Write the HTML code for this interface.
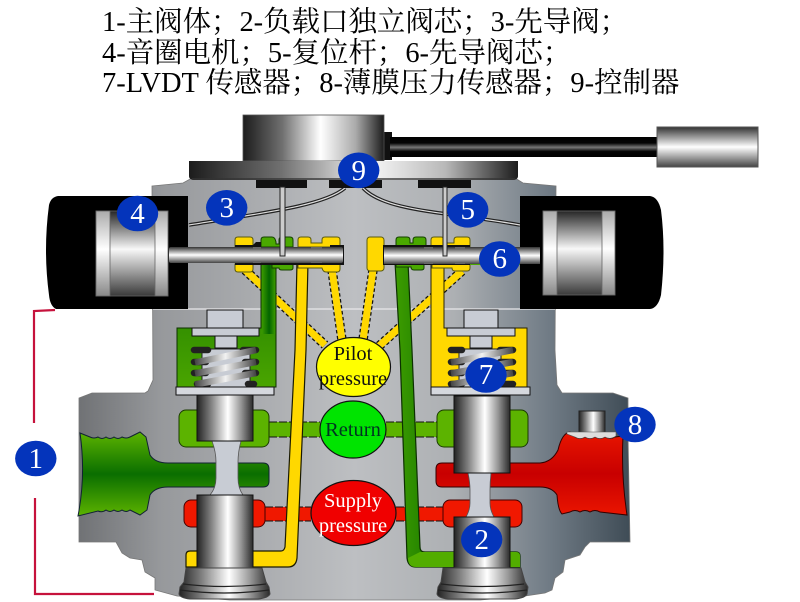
<!DOCTYPE html>
<html><head><meta charset="utf-8"><style>
html,body{margin:0;padding:0;background:#fff}
svg{display:block;filter:blur(.3px)}
.t{font-family:"Liberation Serif","Noto Serif CJK SC",serif;font-size:28.45px;fill:#000}
.n{font-family:"Liberation Serif",serif;font-size:29px;fill:#fff;text-anchor:middle}
.l{font-family:"Liberation Serif",serif;font-size:20.5px;text-anchor:middle}
</style></head><body>
<svg width="800" height="602" viewBox="0 0 800 602" xmlns="http://www.w3.org/2000/svg">
<defs>
<linearGradient id="body" gradientUnits="userSpaceOnUse" x1="79" y1="0" x2="630" y2="0">
<stop offset="0" stop-color="#707275"/><stop offset=".15" stop-color="#97999c"/><stop offset=".5" stop-color="#bdbfc2"/><stop offset=".68" stop-color="#adb0b3"/><stop offset=".85" stop-color="#717c86"/><stop offset="1" stop-color="#3f4c56"/>
</linearGradient>
<linearGradient id="hc"><stop offset="0" stop-color="#222"/><stop offset=".25" stop-color="#808080"/><stop offset=".55" stop-color="#fff"/><stop offset=".78" stop-color="#999"/><stop offset="1" stop-color="#2a2a2a"/></linearGradient>
<linearGradient id="top"><stop offset="0" stop-color="#1c1c1c"/><stop offset=".28" stop-color="#707070"/><stop offset=".55" stop-color="#fff"/><stop offset=".8" stop-color="#aaa"/><stop offset="1" stop-color="#1c1c1c"/></linearGradient>
<linearGradient id="fl"><stop offset="0" stop-color="#1c1c1c"/><stop offset=".28" stop-color="#707070"/><stop offset=".55" stop-color="#f8f8f8"/><stop offset=".78" stop-color="#b8b8b8"/><stop offset="1" stop-color="#1c1c1c"/></linearGradient>
<linearGradient id="arm" x1="0" y1="0" x2="0" y2="1"><stop offset="0" stop-color="#000"/><stop offset=".3" stop-color="#050505"/><stop offset=".52" stop-color="#777"/><stop offset=".72" stop-color="#050505"/><stop offset="1" stop-color="#000"/></linearGradient>
<linearGradient id="vc" x1="0" y1="0" x2="0" y2="1"><stop offset="0" stop-color="#333"/><stop offset=".5" stop-color="#fff"/><stop offset="1" stop-color="#444"/></linearGradient>
<linearGradient id="vc2" x1="0" y1="0" x2="0" y2="1"><stop offset="0" stop-color="#262626"/><stop offset=".45" stop-color="#f8f8f8"/><stop offset="1" stop-color="#3a3a3a"/></linearGradient>
<linearGradient id="col" x1="0" y1="0" x2="0" y2="1"><stop offset="0" stop-color="#aaa"/><stop offset=".45" stop-color="#fff"/><stop offset="1" stop-color="#888"/></linearGradient>
<linearGradient id="gp" x1="0" y1="0" x2="0" y2="1"><stop offset="0" stop-color="#5cb300"/><stop offset=".5" stop-color="#0a6e00"/><stop offset="1" stop-color="#5cb300"/></linearGradient>
<linearGradient id="gpipe"><stop offset="0" stop-color="#3d9c00"/><stop offset=".55" stop-color="#036400"/><stop offset="1" stop-color="#3d9c00"/></linearGradient>
<linearGradient id="gch" x1="0" y1="0" x2="0" y2="1"><stop offset="0" stop-color="#1d7a00"/><stop offset="1" stop-color="#4aa500"/></linearGradient>
<linearGradient id="rp" x1="0" y1="0" x2="0" y2="1"><stop offset="0" stop-color="#e81500"/><stop offset=".5" stop-color="#c80000"/><stop offset="1" stop-color="#ea1500"/></linearGradient>
<linearGradient id="band" gradientUnits="userSpaceOnUse" x1="195" y1="0" x2="256" y2="0"><stop offset="0" stop-color="#444"/><stop offset=".5" stop-color="#f2f2f2"/><stop offset="1" stop-color="#444"/></linearGradient>
<linearGradient id="band2" gradientUnits="userSpaceOnUse" x1="451" y1="0" x2="513" y2="0"><stop offset="0" stop-color="#444"/><stop offset=".5" stop-color="#f2f2f2"/><stop offset="1" stop-color="#444"/></linearGradient>
</defs>
<rect width="800" height="602" fill="#fff"/>
<text class="t" x="102" y="31">1-主阀体；2-负载口独立阀芯；3-先导阀；</text>
<text class="t" x="102" y="62">4-音圈电机；5-复位杆；6-先导阀芯；</text>
<text class="t" x="102" y="92">7-LVDT 传感器；8-薄膜压力传感器；9-控制器</text>

<!-- red bracket -->
<path d="M55,310 L34,311 V423 M35,498 V594 H154" fill="none" stroke="#c6123c" stroke-width="2.2"/>

<!-- body -->
<path fill="url(#body)" stroke="#777" stroke-width=".8" d="M152,186 L183,183 L192,178 H515 L523,183 L556,186 L555,350 L557,385 L562,393 H613 L628,398 V435 L630,542 H590 L585,547 L580,555 L565,560 L563,572 L555,578 L552,590 L545,593 L525,596 L480,600 H230 L177,596 L155,590 V578 L145,572 L142,560 L130,558 L122,553 L116,542 H79 V398 L92,393 H145 L148,391 L153,380 Z"/>
<line x1="153" y1="309" x2="555" y2="309" stroke="#e8e8ea" stroke-width="1.2"/>

<!-- wires -->
<g fill="none">
<path d="M345,188 C325,205 270,212 189,225" stroke="#222" stroke-width="3.6"/>
<path d="M345,188 C325,205 270,212 189,225" stroke="#ddd" stroke-width="1.2"/>
<path d="M363,188 C385,212 450,212 520,225" stroke="#222" stroke-width="3.6"/>
<path d="M363,188 C385,212 450,212 520,225" stroke="#ddd" stroke-width="1.2"/>
</g>

<!-- dashed pilot lines -->
<g fill="none">
<g stroke="#111" stroke-width="9.5" stroke-dasharray="3.5 2.5">
<path d="M245,270 L325,345"/><path d="M332,270 L342,340"/><path d="M373,270 L363,340"/><path d="M462,271 L378,347"/>
</g>
<g stroke="#ffd800" stroke-width="7">
<path d="M245,270 L325,345"/><path d="M332,270 L342,340"/><path d="M373,270 L363,340"/><path d="M462,271 L378,347"/>
</g>
</g>

<!-- return / supply stripes -->
<rect x="269" y="422" width="51" height="15" fill="#5cb300"/>
<rect x="386" y="422" width="51" height="15" fill="#5cb300"/>
<g stroke="#111" stroke-width="1" stroke-dasharray="8 2">
<path d="M269,422 H320 M269,437 H320 M386,422 H437 M386,437 H437"/>
</g>
<rect x="265" y="507" width="46" height="14" fill="#f01800"/>
<rect x="396" y="507" width="47" height="14" fill="#f01800"/>
<g stroke="#111" stroke-width="1" stroke-dasharray="8 2">
<path d="M265,507 H311 M265,521 H311 M396,507 H443 M396,521 H443"/>
</g>

<!-- pockets -->
<rect x="179" y="410" width="90" height="37" rx="7" fill="#5cb300" stroke="#1a3a00"/>
<rect x="437" y="410" width="91" height="37" rx="7" fill="#5cb300" stroke="#1a3a00"/>
<rect x="184" y="500" width="81" height="27" rx="7" fill="#f01800" stroke="#400"/>
<rect x="443" y="500" width="79" height="27" rx="7" fill="#f01800" stroke="#400"/>

<!-- green port -->
<path fill="url(#gp)" stroke="#123" stroke-width="1" d="M80,433 L90,437 Q94,439 98,437 Q102,440 106,437 Q110,440 114,437 Q118,440 122,437 Q126,439 130,437 L140,432 L146,437 L150,455 Q155,463 168,463 H263 Q269,463 269,469 V481 Q269,487 263,487 H168 Q155,487 150,495 L147,510 L140,515 L130,510 Q126,513 122,510 Q118,513 114,510 Q110,513 106,510 Q102,513 98,511 L78,516 Q86,475 80,433 Z"/>
<!-- red port -->
<path fill="url(#rp)" stroke="#300" stroke-width="1" d="M442,463 H540 Q552,462 558,450 Q562,433 570,432 L575,437 Q580,440 585,437 Q590,440 595,437 Q600,440 605,437 Q610,440 615,437 L623,436 Q621,475 627,515 L600,512 Q595,509 590,512 Q585,509 580,512 Q575,509 570,512 L562,514 Q558,510 557,495 Q552,487 540,487 H442 Q436,487 436,481 V469 Q436,463 442,463 Z"/>
<!-- sensor 8 -->
<rect x="579" y="411" width="26" height="22" fill="url(#hc)" stroke="#222"/>
<path d="M567,432 H616 V436 Q610,440 605,437 Q600,440 595,437 Q590,440 585,437 Q580,440 575,437 L567,434 Z" fill="#ddd" stroke="#555" stroke-width=".6"/>

<!-- pipes -->
<path stroke="#0c3000" d="M261,262 H276 V387 H177 V328 H261 Z" style="fill:url(#gch)"/>
<rect x="261.5" y="262" width="14" height="72" fill="url(#gpipe)"/>
<path fill="#ffd800" stroke="#2a2500" d="M431,328 V262 H444 V328 H527 V387 H431 Z"/>
<path fill="#ffd800" stroke="#1a1a00" stroke-width="1.2" d="M297,262 H308 L306,350 L297,558 Q296,567 288,567 H186 V555 Q186,551 190,551 H281 Q284,551 285,547 L295,350 Z"/>
<path fill="url(#gpipe)" stroke="#0c3000" stroke-width="1.2" d="M395,262 H408 L412,350 L420,547 Q420,552 425,552 H516 Q520,552 520,556 V567 H416 Q408,567 407,558 L400,350 Z"/>
<path d="M420,552 H516 Q520,552 520,556 V567 H416 Q408,567 408,558" fill="#52ad00"/>

<!-- spool pads -->
<g stroke="#5a5a10" stroke-width="1">
<path fill="#ffd800" d="M235,247 V240 Q235,237 238,237 H250 Q253,237 253,240 V247 Z"/>
<path fill="#ffd800" d="M235,264 V269 Q235,272 238,272 H250 Q253,272 253,269 V264 Z"/>
<path fill="#ffd800" d="M298,247 V240 Q298,237 301,237 H308 Q311,237 311,240 V243 H322 V240 Q322,237 325,237 H337 Q340,237 340,240 V247 Z"/>
<path fill="#ffd800" d="M298,264 H340 V269 Q340,272 337,272 H326 Q323,272 322,268 H298 Z"/>
<rect x="367" y="237" width="17" height="34" rx="3" fill="#ffd800"/>
<path fill="#ffd800" d="M431,247 V240 Q431,237 434,237 H441 Q444,237 444,240 V243 H454 V240 Q454,237 457,237 H467 Q470,237 470,240 V247 Z"/>
<path fill="#ffd800" d="M432,264 H470 V268 Q470,271 467,271 H455 Q452,271 452,268 H432 Z"/>
</g>
<g stroke="#144000" stroke-width="1" fill="#4aa800">
<path d="M261,247 V240 Q261,237 264,237 H272 Q275,237 276,242 V244 H279 V240 Q279,237 282,237 H290 Q293,237 293,240 V247 Z"/>
<path d="M272,264 H293 V268 Q293,270 290,270 H282 Q279,270 279,268 H272 Z"/>
<path d="M396,247 V240 Q396,237 399,237 H407 Q410,237 410,240 V243 H413 V240 Q413,237 416,237 H423 Q426,237 426,240 V247 Z"/>
<path d="M396,264 H424 V268 Q424,270 421,270 H414 Q411,270 411,267 H396 Z"/>
<rect x="470" y="247" width="50" height="4" stroke="none" fill="#4aa800"/>
<rect x="470" y="261" width="50" height="4" stroke="none" fill="#4aa800"/>
</g>

<!-- actuators -->
<path fill="#000" d="M58,196 H188 V309 H56 Q50,306 49,295 Q43,250 49,205 Q51,197 58,196 Z"/>
<path fill="#000" d="M520,196 H650 Q658,197 661,210 Q666,250 661,295 Q658,308 650,309 H520 Z"/>
<rect x="96" y="211" width="72" height="85" fill="url(#vc2)" stroke="#666" stroke-width=".8"/>
<rect x="96" y="211" width="14" height="85" fill="url(#col)" stroke="#666" stroke-width=".8"/>
<rect x="155" y="211" width="13" height="85" fill="url(#col)" stroke="#666" stroke-width=".8"/>
<rect x="543" y="211" width="72" height="84" fill="url(#vc2)" stroke="#666" stroke-width=".8"/>
<rect x="543" y="211" width="14" height="84" fill="url(#col)" stroke="#666" stroke-width=".8"/>
<rect x="602" y="211" width="13" height="84" fill="url(#col)" stroke="#666" stroke-width=".8"/>

<!-- rods with stepped outline -->
<path d="M235,245 H253 L256,242 H261 V248 H330 V245 H344 V265 H235 Z" fill="#111"/>
<path d="M383,245 H470 V265 H383 Z" fill="#111"/>
<rect x="169" y="247" width="174" height="16" rx="2" fill="url(#vc)"/>
<rect x="384" y="247" width="156" height="17" fill="url(#vc)"/>
<g fill="#666">
<rect x="253" y="247" width="8" height="2"/><rect x="253" y="261" width="8" height="2"/>
<rect x="311" y="247" width="11" height="2"/><rect x="311" y="261" width="11" height="2"/>
<rect x="424" y="247" width="9" height="2"/><rect x="424" y="262" width="9" height="2"/>
<rect x="455" y="247" width="10" height="2"/><rect x="455" y="262" width="10" height="2"/>
</g>

<!-- sensor blocks + pins -->
<rect x="256" y="180" width="51" height="8" fill="#111"/>
<rect x="329" y="180" width="53" height="8" fill="#111"/>
<rect x="418" y="180" width="53" height="8" fill="#111"/>
<rect x="280" y="187" width="5" height="69" fill="#ccc" stroke="#222" stroke-width="1"/>
<rect x="443" y="187" width="4" height="69" fill="#ccc" stroke="#222" stroke-width="1"/>

<!-- top device -->
<rect x="384" y="132" width="8" height="28" fill="#111"/>
<rect x="390" y="137" width="268" height="20" fill="url(#arm)"/>
<rect x="657" y="127" width="101" height="40" fill="url(#vc)" stroke="#555"/>
<rect x="243" y="115" width="141" height="46" fill="url(#top)" stroke="#555" stroke-width=".8"/>
<path d="M189,161 H518 V176 Q518,180 512,180 H195 Q189,180 189,176 Z" fill="url(#fl)"/>
<rect x="192" y="178" width="323" height="2" fill="#333" opacity=".7"/>

<!-- left spring -->
<rect x="207" y="310" width="36" height="18" fill="#c8ccd4" stroke="#111"/>
<rect x="192" y="328" width="67" height="8" fill="#c8ccd4" stroke="#111"/>
<rect x="215" y="336" width="22" height="12" fill="#c8ccd4" stroke="#111"/>
<rect x="202" y="349" width="48" height="38" fill="#c8ccd4" stroke="#222"/>
<g stroke-linecap="round" fill="none" stroke="#222" stroke-width="6.5">
<path d="M194,350 H208 M243,350 H256 M194,362 H206 M245,362 H256 M194,373 H206 M245,373 H256 M197,384 H208 M248,384 H254"/>
</g>
<g stroke="url(#band)" stroke-width="6.5" fill="none"><path d="M195,362.5 L256,350"/><path d="M195,373.5 L256,362"/><path d="M195,384.5 L256,373"/></g>
<!-- right spring -->
<rect x="464" y="310" width="34" height="18" fill="#c8ccd4" stroke="#111"/>
<rect x="447" y="328" width="68" height="8" fill="#c8ccd4" stroke="#111"/>
<rect x="470" y="336" width="22" height="12" fill="#c8ccd4" stroke="#111"/>
<rect x="459" y="349" width="42" height="38" fill="#c8ccd4" stroke="#222"/>
<g stroke-linecap="round" fill="none" stroke="#222" stroke-width="6.5">
<path d="M451,350 H462 M500,350 H513 M451,362 H462 M500,362 H513 M451,373 H462 M500,373 H513 M451,384 H462 M500,384 H513"/>
</g>
<g stroke="url(#band2)" stroke-width="6.5" fill="none"><path d="M451,362.5 L513,350"/><path d="M451,373.5 L513,362"/><path d="M451,384.5 L513,373"/></g>

<!-- plates -->
<rect x="176" y="387" width="98" height="8" fill="#d5d8de" stroke="#111"/>
<rect x="431" y="387" width="99" height="8" fill="#d5d8de" stroke="#111"/>

<!-- spools left -->
<path d="M212,441 Q216,452 216,462 V478 Q216,488 210,495 H243 Q238,488 238,478 V462 Q238,452 241,441 Z" fill="#c8ccd4" stroke="#555" stroke-width=".8"/>
<rect x="197" y="395" width="56" height="46" fill="url(#hc)" stroke="#111"/>
<rect x="197" y="495" width="56" height="73" fill="url(#hc)" stroke="#111"/>
<!-- spools right -->
<path d="M468,473 Q470,482 470,490 V503 Q470,510 466,517 H494 Q490,510 490,503 V490 Q490,482 491,473 Z" fill="#c8ccd4" stroke="#555" stroke-width=".8"/>
<rect x="454" y="396" width="56" height="77" fill="url(#hc)" stroke="#111"/>
<rect x="454" y="517" width="56" height="51" fill="url(#hc)" stroke="#111"/>

<!-- poppets -->
<path d="M186,568 H262 L266,582 L269,587 L270,594 Q268,598 258,599 H190 Q180,598 179,594 L180,587 L184,582 Z" fill="url(#hc)" stroke="#444" stroke-width="1"/>
<path d="M183,584 Q224,589 266,584 M180,590 Q224,596 269,590" fill="none" stroke="#222" stroke-width="1.2"/>
<path d="M443,568 H521 L525,582 L528,587 L527,594 Q525,598 515,599 H448 Q438,598 437,594 L438,587 L441,582 Z" fill="url(#hc)" stroke="#444" stroke-width="1"/>
<path d="M441,584 Q482,589 524,584 M438,590 Q482,596 527,590" fill="none" stroke="#222" stroke-width="1.2"/>

<!-- ellipses -->
<ellipse cx="353.5" cy="367" rx="37" ry="29.5" fill="#ffff00" stroke="#111" stroke-width="1.2"/>
<ellipse cx="353" cy="429.5" rx="33" ry="28.5" fill="#00e400" stroke="#111" stroke-width="1.2"/>
<ellipse cx="353.5" cy="513" rx="42.5" ry="32.5" fill="#f00000" stroke="#111" stroke-width="1.2"/>
<text class="l" x="353" y="360" fill="#111">Pilot</text>
<text class="l" x="353" y="385" fill="#111">pressure</text>
<text class="l" x="353" y="436" fill="#032">Return</text>
<text class="l" x="353" y="507" fill="#fff">Supply</text>
<text class="l" x="353" y="532" fill="#fff">pressure</text>

<!-- numbers -->
<g fill="#0434bb">
<ellipse cx="35.8" cy="458.5" rx="20.7" ry="17.8"/>
<ellipse cx="481.7" cy="539.5" rx="20.7" ry="17.8"/>
<ellipse cx="226.7" cy="207.8" rx="20.7" ry="17.8"/>
<ellipse cx="137.5" cy="213.5" rx="20.7" ry="17.8"/>
<ellipse cx="467.7" cy="209.8" rx="20.7" ry="17.8"/>
<ellipse cx="499.7" cy="259" rx="20.7" ry="17.8"/>
<ellipse cx="486" cy="375" rx="20.7" ry="17.8"/>
<ellipse cx="635" cy="424.5" rx="20.7" ry="17.8"/>
<ellipse cx="358.7" cy="170.3" rx="20.7" ry="17.8"/>
</g>
<text class="n" x="35.8" y="468">1</text>
<text class="n" x="481.7" y="549">2</text>
<text class="n" x="226.7" y="217">3</text>
<text class="n" x="137.5" y="223">4</text>
<text class="n" x="467.7" y="219">5</text>
<text class="n" x="499.7" y="268">6</text>
<text class="n" x="486" y="384">7</text>
<text class="n" x="635" y="434">8</text>
<text class="n" x="358.7" y="180">9</text>
</svg>
</body></html>
